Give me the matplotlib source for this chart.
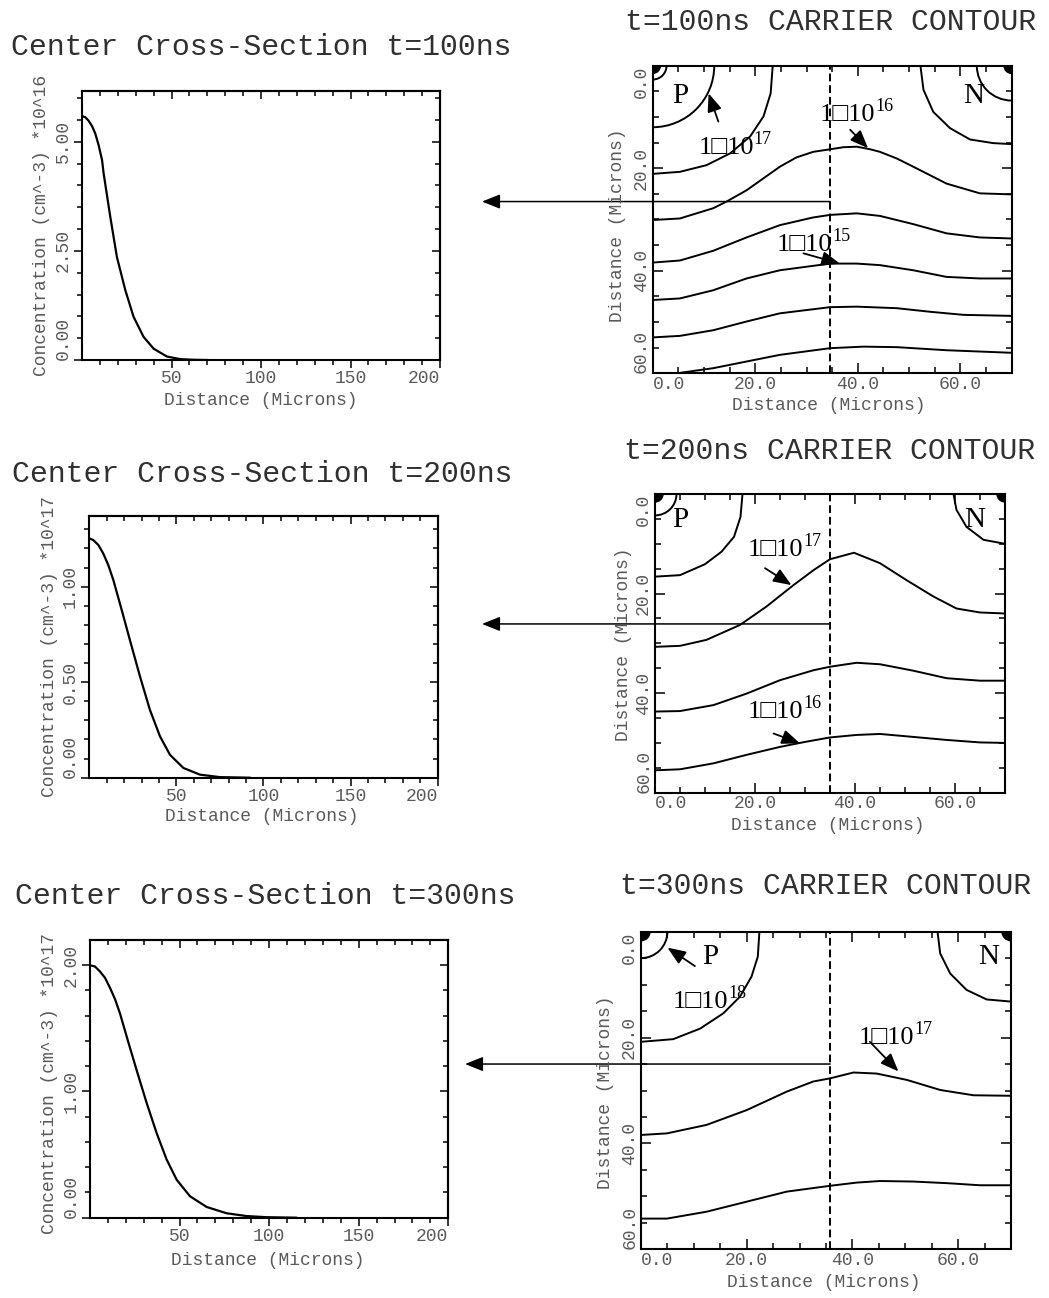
import numpy as np
import matplotlib
matplotlib.use("Agg")
import matplotlib.pyplot as plt
from matplotlib.patches import Arc, Circle

plt.rcParams['font.family'] = ['Liberation Mono', 'DejaVu Sans Mono']

W, H = 1049, 1298
GRAY = '#5a5a5a'
TITLE_COL = '#303030'
SERIF = ['Liberation Serif', 'DejaVu Serif']

# Center cross-sections: distance (microns) vs concentration
dist100 = [0, 1.9, 3.7, 5.6, 7.4, 9.3, 11.2, 12.1, 15.8, 19.5, 24.2, 28.8, 34.4, 40, 47.4,
           54.9, 62, 70]
conc100 = [5.59, 5.56, 5.48, 5.36, 5.19, 4.92, 4.58, 4.27, 3.28, 2.36, 1.60, 0.99, 0.53,
           0.26, 0.08, 0.02, 0.005, 0.0]

dist200 = [0, 2.3, 5.2, 8.0, 10.9, 13.8, 18.6, 23.3, 29.1, 34.8, 40.6, 46.3, 54, 63.5, 75, 92]
conc200 = [1.253, 1.244, 1.218, 1.174, 1.113, 1.035, 0.878, 0.721, 0.530, 0.355, 0.216,
           0.120, 0.051, 0.016, 0.003, 0.0]

dist300 = [0, 2.8, 5.6, 8.4, 11.2, 14.0, 16.7, 21.4, 26.0, 31.6, 37.2, 42.8, 48.4, 55.8,
           65.1, 76.3, 87.4, 98.6, 115]
conc300 = [2.0, 1.99, 1.95, 1.90, 1.82, 1.73, 1.62, 1.39, 1.17, 0.91, 0.67, 0.46, 0.30,
           0.17, 0.085, 0.035, 0.013, 0.004, 0.0]

# Carrier contours, (x, depth) in microns, depth measured down from the surface
# t=100ns
c100_p = ([23.4, 23.0, 21.6, 19.0, 15.1, 10.5, 5.3, 0],
          [0, 5.4, 9.9, 13.8, 17.1, 19.4, 20.7, 21.1])
c100_n = ([52.2, 52.8, 54.7, 58.0, 61.9, 66.4, 70],
          [0, 4.7, 9.0, 12.2, 14.4, 15.1, 15.3])
c100_a = ([0, 5.3, 11.8, 14.4, 18.3, 24.8, 28.0, 31.3, 34.6, 37.2, 39.8, 42.4, 44.3, 47.6,
           50.8, 57.3, 63.8, 70],
          [30.1, 29.8, 27.8, 26.5, 24.3, 19.7, 17.9, 16.8, 16.3, 15.9, 15.8, 16.3, 16.8, 18.1,
           19.7, 23.0, 24.9, 25.1])
c100_b = ([0, 5.3, 11.8, 18.3, 24.8, 31.3, 34.6, 39.8, 44.3, 50.8, 57.3, 63.8, 70],
          [38.4, 38.0, 36.1, 33.5, 31.1, 29.6, 29.1, 28.8, 29.3, 30.9, 32.7, 33.5, 33.7])
c100_c = ([0, 5.3, 11.8, 18.3, 24.8, 34.6, 39.8, 44.3, 50.8, 57.3, 63.8, 70],
          [45.7, 45.4, 43.8, 41.5, 39.9, 38.6, 38.6, 38.9, 39.9, 41.2, 41.5, 41.5])
c100_d = ([0, 5.3, 11.8, 18.3, 24.8, 34.6, 39.8, 47.6, 54.1, 60.6, 70],
          [53.0, 52.7, 51.6, 49.9, 48.3, 47.1, 47.0, 47.3, 48.0, 48.6, 48.8])
c100_e = ([4.7, 11.8, 18.3, 24.8, 34.6, 41.1, 47.6, 57.3, 70],
          [60, 59.0, 57.7, 56.4, 55.1, 54.8, 54.9, 55.5, 56.0])
p_radii100 = [2.7, 12.0]
n_radii100 = [6.8]

# t=200ns
c200_p = ([17.5, 17.1, 15.8, 13.3, 10.0, 5.0, 0],
          [0, 4.6, 8.6, 11.6, 14.1, 16.3, 16.6])
c200_n = ([59.7, 60.3, 62.3, 65.7, 70],
          [0, 3.2, 6.6, 9.2, 10.0])
c200_a = ([0, 5.0, 10.3, 17.0, 22.3, 27.7, 31.7, 35.0, 39.8, 45.0, 50.3, 55.7, 60.3, 65.0, 70],
          [30.7, 30.5, 29.3, 26.3, 22.6, 18.3, 15.3, 13.1, 11.8, 13.9, 17.3, 20.6, 23.0, 23.8, 24.0])
c200_b = ([0, 5, 11.7, 18.3, 25, 31.7, 35, 40.3, 45, 51.7, 58.3, 65, 70],
          [43.7, 43.6, 42.4, 40.1, 37.4, 35.4, 34.7, 33.9, 34.2, 35.5, 37.0, 37.5, 37.5])
c200_c = ([0, 5, 11.7, 18.3, 25, 30, 35, 40.3, 45, 51.7, 58.3, 65, 70],
          [55.5, 55.3, 54.1, 52.4, 50.8, 49.8, 48.9, 48.4, 48.2, 48.8, 49.4, 49.9, 50.0])
p_radii200 = [4.3]
n_radii200 = []

# t=300ns
c300_p = ([22.4, 22.1, 20.9, 18.7, 15.6, 11.2, 6.1, 0],
          [0, 4.7, 8.5, 12.3, 15.4, 18.3, 20.3, 20.8])
c300_n = ([56.1, 56.6, 58.5, 61.6, 65.4, 70],
          [0, 4.1, 7.9, 11.0, 12.8, 13.2])
c300_a = ([0, 4.9, 12.4, 20.0, 27.6, 32.6, 35.8, 40.2, 44.6, 50.3, 56.6, 62.9, 70],
          [38.4, 38.1, 36.5, 33.7, 30.2, 28.3, 27.7, 26.6, 26.8, 28.0, 29.9, 30.9, 31.0])
c300_b = ([0, 4.9, 12.4, 20.0, 27.6, 35.8, 40.8, 45.2, 51.5, 57.8, 64.1, 70],
          [54.2, 54.2, 52.9, 51.0, 49.1, 48.0, 47.4, 47.1, 47.2, 47.5, 47.9, 47.9])
p_radii300 = [5.0]
n_radii300 = []

# labels: text, superscript, centre, arrow tail, arrow head
notes100 = [("P", "", (5.3, 6.0), None, None),
            ("N", "", (62.5, 6.0), None, None),
            ("1□10", "16", (38.0, 9.6), (38.5, 12.5), (42.0, 16.1)),
            ("1□10", "17", (14.3, 16.1), (12.8, 10.9), (10.9, 5.4)),
            ("1□10", "15", (29.6, 35.0), (29.4, 36.6), (36.5, 38.6))]
notes200 = [("P", "", (5.0, 5.2), None, None),
            ("N", "", (63.9, 5.2), None, None),
            ("1□10", "17", (24.1, 11.2), (22.0, 14.9), (27.3, 18.3)),
            ("1□10", "16", (24.1, 43.7), (23.7, 48.1), (29.0, 50.1))]
notes300 = [("P", "", (13.1, 4.7), (10.2, 6.5), (5.0, 3.0)),
            ("N", "", (65.7, 4.7), None, None),
            ("1□10", "18", (11.3, 13.2), None, None),
            ("1□10", "17", (46.5, 20.1), (43.3, 20.8), (48.7, 26.4))]


def rect_px(x0, y0, x1, y1):
    return [x0 / W, 1 - y1 / H, (x1 - x0) / W, (y1 - y0) / H]


ARROW = dict(arrowstyle='-|>,head_length=0.5,head_width=0.2', color='black', lw=1.3,
             mutation_scale=22, shrinkA=0, shrinkB=0)

fig = plt.figure(figsize=(W / 100, H / 100), dpi=100)


def cross_section(rect, dist, conc, ymax, ymajor, ylabels, ystep, power, xlab, ylab):
    ax = fig.add_axes(rect)
    ax.plot(dist, conc, color='black', lw=1.6)
    ax.set_xlim(0, 200)
    ax.set_ylim(0, ymax)
    xmajor = [50, 100, 150, 200]
    xminor = np.arange(10, 200, 10)
    yminor = np.arange(ystep, ymax, ystep)
    ax.set_xticks(xmajor, ['50', '100', '150', '200'])
    ax.set_xticks(xminor, minor=True)
    ax.set_yticks(ymajor, ylabels)
    ax.set_yticks(yminor, minor=True)
    ax.tick_params(which='both', direction='out', width=1.1, labelcolor=GRAY,
                   labelsize=13, pad=2)
    ax.tick_params(which='major', length=5.5)
    ax.tick_params(which='minor', length=3.5)
    ax.tick_params(axis='y', labelrotation=90)
    for lab in ax.get_yticklabels():
        lab.set_va('center')
    ax.get_yticklabels()[0].set_va('bottom')
    ax.get_xticklabels()[-1].set_ha('right')
    for s in ax.spines.values():
        s.set_linewidth(1.5)

    top = ax.secondary_xaxis('top')
    top.set_xticks(xmajor)
    top.set_xticks(xminor, minor=True)
    right = ax.secondary_yaxis('right')
    right.set_yticks(ymajor)
    right.set_yticks(yminor, minor=True)
    for sec in (top, right):
        sec.tick_params(which='both', direction='in', width=1.1, labeltop=False,
                        labelright=False)
        sec.tick_params(which='major', length=5.5)
        sec.tick_params(which='minor', length=3.5)
        for s in sec.spines.values():
            s.set_linewidth(1.5)

    ax.text(xlab[0], xlab[1], 'Distance (Microns)', transform=ax.transAxes,
            ha='center', va='center', fontsize=13, color=GRAY)
    ax.text(ylab[0], ylab[1], 'Concentration (cm^-3) *10^' + power, transform=ax.transAxes,
            ha='center', va='center', rotation=90, fontsize=13, color=GRAY)
    return ax


def contour(rect, lines, p_radii, n_radii, dot, xdash, yarrow, head_x, notes, xlab, ylab):
    ax = fig.add_axes(rect)
    ax.set_xlim(0, 70)
    ax.set_ylim(60, 0)
    for xs, ys in lines:
        ax.plot(xs, ys, color='black', lw=1.4)
    for r in p_radii:
        ax.add_patch(Arc((0, 0), 2 * r, 2 * r, theta1=0, theta2=90, lw=1.4, color='black'))
    for r in n_radii:
        ax.add_patch(Arc((70, 0), 2 * r, 2 * r, theta1=90, theta2=180, lw=1.4, color='black'))
    for cx in (0, 70):
        ax.add_patch(Circle((cx, 0), dot, color='black'))
    ax.axvline(xdash, color='black', lw=1.4, ls=(0, (4, 2)))
    ax.annotate('', xy=(head_x / W, yarrow), xycoords=('figure fraction', 'data'),
                xytext=(xdash, yarrow), textcoords='data', annotation_clip=False,
                arrowprops=dict(ARROW, lw=1.1))

    for text, sup, xy, tail, head in notes:
        size = 19 if sup else 21
        t = ax.text(xy[0], xy[1], text, ha='center', va='center', fontsize=size, family=SERIF)
        if sup:
            ax.annotate(sup, xy=(1.0, 0.5), xycoords=t, ha='left', va='bottom',
                        fontsize=13, family=SERIF)
        if tail is not None:
            ax.annotate('', xy=head, xytext=tail, arrowprops=ARROW)

    ax.set_xticks([0, 20, 40, 60], ['0.0', '20.0', '40.0', '60.0'])
    ax.set_xticks(np.arange(5, 70, 5), minor=True)
    ax.set_yticks([0, 20, 40, 60], ['0.0', '20.0', '40.0', '60.0'])
    ax.set_yticks(np.arange(5, 60, 5), minor=True)
    ax.tick_params(which='both', direction='in', top=True, right=True, width=1.1,
                   labelcolor=GRAY, labelsize=13, pad=2)
    ax.tick_params(which='major', length=7)
    ax.tick_params(which='minor', length=4.5)
    ax.tick_params(axis='y', labelrotation=90)
    for lab in ax.get_yticklabels():
        lab.set_va('center')
    ax.get_yticklabels()[0].set_va('top')
    ax.get_yticklabels()[-1].set_va('bottom')
    ax.get_xticklabels()[0].set_ha('left')
    for s in ax.spines.values():
        s.set_linewidth(1.5)

    ax.text(xlab[0], xlab[1], 'Distance (Microns)', transform=ax.transAxes,
            ha='center', va='center', fontsize=13, color=GRAY)
    ax.text(ylab[0], ylab[1], 'Distance (Microns)', transform=ax.transAxes,
            ha='center', va='center', rotation=90, fontsize=13, color=GRAY)
    return ax


def title(x, y, text):
    fig.text(x / W, 1 - y / H, text, ha='center', va='baseline', fontsize=21.5,
             color=TITLE_COL)


# row 1
cross_section(rect_px(82, 90.7, 440, 360), dist100, conc100, 6.17, [0, 2.5, 5.0],
              ['0.00', '2.50', '5.00'], 0.5, '16', (0.5, -0.149), (-0.112, 0.5))
contour(rect_px(652.7, 65.7, 1011.7, 373.3),
        [c100_p, c100_n, c100_a, c100_b, c100_c, c100_d, c100_e],
        p_radii100, n_radii100, 1.5, 34.6, 26.5, 482, notes100,
        (0.491, -0.106), (-0.097, 0.482))
title(261, 55, 'Center Cross-Section t=100ns')
title(831, 30, 't=100ns CARRIER CONTOUR')

# row 2
cross_section(rect_px(89.3, 516, 437.7, 777.7), dist200, conc200, 1.37, [0, 0.5, 1.0],
              ['0.00', '0.50', '1.00'], 0.1, '17', (0.495, -0.150), (-0.113, 0.5))
contour(rect_px(655, 494, 1005, 792.7), [c200_p, c200_n, c200_a, c200_b, c200_c],
        p_radii200, n_radii200, 1.6, 35.0, 26.1, 482, notes200,
        (0.494, -0.111), (-0.091, 0.498))
title(262, 481.7, 'Center Cross-Section t=200ns')
title(830, 459, 't=200ns CARRIER CONTOUR')

# row 3
cross_section(rect_px(90, 940, 448.3, 1217.7), dist300, conc300, 2.2, [0, 1.0, 2.0],
              ['0.00', '1.00', '2.00'], 0.2, '17', (0.495, -0.155), (-0.112, 0.485))
contour(rect_px(641, 931.7, 1011, 1249.3), [c300_p, c300_n, c300_a, c300_b],
        p_radii300, n_radii300, 1.7, 35.8, 25.0, 465, notes300,
        (0.495, -0.103), (-0.095, 0.495))
title(265, 904, 'Center Cross-Section t=300ns')
title(826, 894, 't=300ns CARRIER CONTOUR')

fig.savefig('out.png', dpi=100)
